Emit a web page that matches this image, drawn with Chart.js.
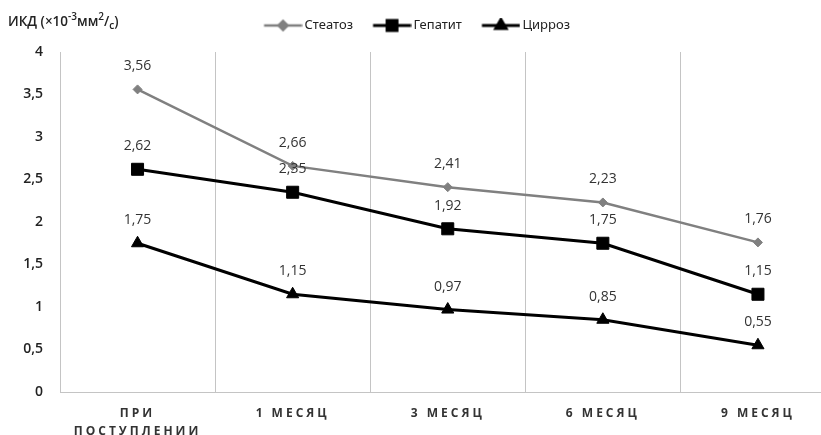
<!DOCTYPE html>
<html>
<head>
  <meta charset="utf-8">
  <title>ИКД</title>
  <script src="https://cdn.jsdelivr.net/npm/chart.js@4.4.1/dist/chart.umd.min.js"></script>
  <style>
    body { margin: 0; overflow: hidden; background: #fff; }
  </style>
</head>
<body>
  <canvas id="chart" width="845" height="435"></canvas>

  <script>
    // data
    var categories = [["ПРИ", "ПОСТУПЛЕНИИ"], "1 МЕСЯЦ", "3 МЕСЯЦ", "6 МЕСЯЦ", "9 МЕСЯЦ"];
    var steatoz = [3.56, 2.66, 2.41, 2.23, 1.76];
    var gepatit = [2.62, 2.35, 1.92, 1.75, 1.15];
    var cirroz = [1.75, 1.15, 0.97, 0.85, 0.55];
    var seriesNames = ["Стеатоз", "Гепатит", "Цирроз"];
    var yTicks = [0, 0.5, 1, 1.5, 2, 2.5, 3, 3.5, 4];

    var gray = "#808080";
    var dark = "#333";

    function fmt(v) {
      return String(v).replace(".", ",");
    }

    // legend symbol: line with the marker in the middle
    function legendIcon(color, style, r, lw) {
      var c = document.createElement("canvas");
      c.width = 42; c.height = 16;
      var g = c.getContext("2d");
      g.strokeStyle = color;
      g.fillStyle = color;
      g.lineWidth = lw;
      g.beginPath();
      g.moveTo(3.5, 8); g.lineTo(41.5, 8);
      g.stroke();
      Chart.helpers.drawPoint(g, { pointStyle: style, radius: r, rotation: 0, borderWidth: 1 }, 22.5, 8);
      return c;
    }

    // value labels above the points
    var valueLabels = {
      id: "valueLabels",
      afterDatasetsDraw: function (chart) {
        var ctx = chart.ctx;
        ctx.save();
        ctx.font = "14px 'Open Sans'";
        ctx.fillStyle = dark;
        ctx.textAlign = "center";
        ctx.textBaseline = "middle";
        chart.data.datasets.forEach(function (ds, i) {
          chart.getDatasetMeta(i).data.forEach(function (pt, j) {
            ctx.fillText(fmt(ds.data[j]), pt.x, pt.y - 23);
          });
        });
        ctx.restore();
      }
    };

    // axis caption, top left
    var axisCaption = {
      id: "axisCaption",
      afterDraw: function (chart) {
        var ctx = chart.ctx;
        var parts = [
          ["ИКД (×10", 13.5, 0],
          ["-3", 10, -5],
          ["мм", 13.5, 0],
          ["2", 10, -5],
          ["/", 13.5, 0],
          ["с", 10, 4],
          [")", 13.5, 0]
        ];
        var x = 8, y = 22;
        ctx.save();
        ctx.fillStyle = "#222";
        ctx.textBaseline = "middle";
        ctx.textAlign = "left";
        parts.forEach(function (p) {
          ctx.font = "600 " + p[1] + "px 'Open Sans'";
          ctx.fillText(p[0], x, y + p[2]);
          x += ctx.measureText(p[0]).width;
        });
        ctx.restore();
      }
    };

    // wider letter spacing for the category labels
    var spacedTicks = {
      id: "spacedTicks",
      beforeDraw: function (chart) {
        var s = chart.scales.x;
        if (s && !s._spaced) {
          var orig = s.drawLabels.bind(s);
          s.drawLabels = function (area) {
            chart.ctx.save();
            chart.ctx.letterSpacing = "3px";
            orig(area);
            chart.ctx.restore();
          };
          s._spaced = true;
        }
      }
    };

    // nudge the legend a little up and left
    var legendNudge = {
      id: "legendNudge",
      afterLayout: function (chart) {
        var l = chart.legend;
        l.left -= 5; l.right -= 5;
        l.top -= 2; l.bottom -= 2;
      }
    };

    var icons = [
      legendIcon(gray, "rectRot", 4.5, 2.5),
      legendIcon("#000", "rect", 7, 3),
      legendIcon("#000", "triangle", 6, 3)
    ];

    new Chart(document.getElementById("chart"), {
      type: "line",
      data: {
        labels: categories,
        datasets: [{
          label: seriesNames[0],
          data: steatoz,
          borderColor: gray,
          backgroundColor: gray,
          borderWidth: 2.5,
          pointStyle: "rectRot",
          pointRadius: 4.5,
          pointBorderWidth: 1,
          tension: 0
        }, {
          label: seriesNames[1],
          data: gepatit,
          borderColor: "#000",
          backgroundColor: "#000",
          borderWidth: 3,
          pointStyle: "rect",
          pointRadius: 8.5,
          pointBorderWidth: 1,
          tension: 0
        }, {
          label: seriesNames[2],
          data: cirroz,
          borderColor: "#000",
          backgroundColor: "#000",
          borderWidth: 3,
          pointStyle: "triangle",
          pointRadius: 7,
          pointBorderWidth: 1,
          tension: 0
        }]
      },
      options: {
        responsive: false,
        animation: false,
        layout: { padding: { top: 0, left: 0, right: 0, bottom: 0 } },
        plugins: {
          tooltip: { enabled: false },
          // empty title used as a spacer between legend and plot
          title: {
            display: true,
            text: " ",
            position: "top",
            weight: 500,
            padding: { top: 1, bottom: 1 },
            font: { size: 5 }
          },
          legend: {
            position: "top",
            labels: {
              usePointStyle: true,
              pointStyleWidth: 33,
              boxHeight: 12,
              padding: 21,
              color: "#222",
              font: { family: "'Noto Sans'", size: 13 },
              generateLabels: function (chart) {
                return chart.data.datasets.map(function (ds, i) {
                  return {
                    text: ds.label,
                    pointStyle: icons[i],
                    fillStyle: ds.borderColor,
                    strokeStyle: ds.borderColor,
                    lineWidth: 0,
                    fontColor: "#222",
                    datasetIndex: i
                  };
                });
              }
            }
          }
        },
        scales: {
          x: {
            offset: true,
            grid: { display: true, offset: true, color: "#c4c4c4", lineWidth: 1, drawTicks: false },
            border: { display: true, color: "#c4c4c4" },
            ticks: {
              color: dark,
              padding: 13,
              maxRotation: 0,
              font: { family: "'Open Sans'", size: 12, weight: "bold", lineHeight: 1.5 }
            },
            afterFit: function (s) { s.height = 43; }
          },
          y: {
            min: 0,
            max: 4,
            grid: { display: false, drawTicks: false },
            border: { display: false },
            afterBuildTicks: function (s) {
              s.ticks = yTicks.map(function (v) { return { value: v }; });
            },
            ticks: {
              color: "#222",
              padding: 17,
              font: { family: "'Open Sans'", size: 14, weight: "600" },
              callback: function (v) { return fmt(v); }
            },
            afterFit: function (s) { s.width = 60; }
          }
        }
      },
      plugins: [valueLabels, axisCaption, spacedTicks, legendNudge]
    });
  </script>
</body>
</html>
